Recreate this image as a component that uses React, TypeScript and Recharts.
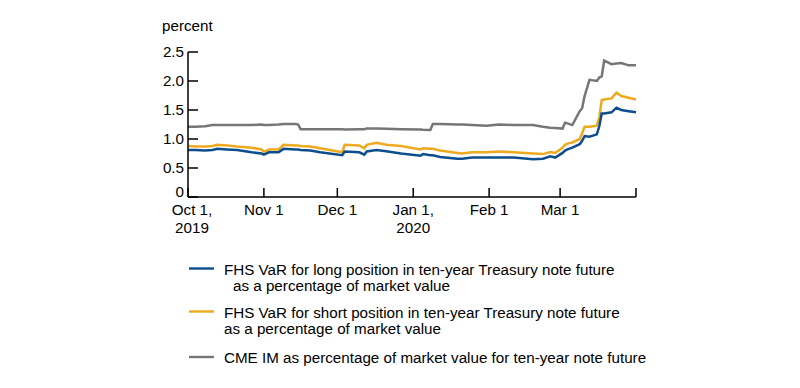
import React from 'react';
import { LineChart, Line, XAxis, YAxis } from 'recharts';

const BLUE = '#0C4E8D';
const ORANGE = '#EEA91F';
const GRAY = '#767676';
const FONT = '"Liberation Sans", Arial, Helvetica, sans-serif';
const FS = 15.2;

// days since Oct 1, 2019
const days = [
  0, 3, 7, 10, 12, 16, 20, 26, 30, 31, 33, 37, 39, 44, 45, 46, 50, 54, 63, 64,
  70, 72, 73, 77, 81, 87, 95, 96, 99, 100, 103, 110, 112, 116, 122, 127, 133, 141,
  145, 148, 150, 153, 154, 155, 157, 160, 161, 162, 164, 167, 168, 169, 170, 173,
  175, 177, 180, 183,
];
const longVaR = [
  0.81, 0.81, 0.8, 0.81, 0.83, 0.82, 0.81, 0.77, 0.75, 0.73, 0.77, 0.77, 0.83, 0.82, 0.82, 0.81, 0.8, 0.77, 0.72, 0.785,
  0.77, 0.73, 0.785, 0.81, 0.79, 0.75, 0.71, 0.74, 0.72, 0.72, 0.69, 0.66, 0.66, 0.68, 0.68, 0.68, 0.68, 0.65,
  0.66, 0.7, 0.68, 0.76, 0.8, 0.82, 0.85, 0.91, 0.97, 1.05, 1.04, 1.08, 1.22, 1.44, 1.44, 1.46,
  1.54, 1.5, 1.48, 1.46,
];
const shortVaR = [
  0.88, 0.87, 0.87, 0.88, 0.9, 0.89, 0.87, 0.85, 0.82, 0.78, 0.82, 0.82, 0.9, 0.89, 0.89, 0.88, 0.87, 0.84, 0.77, 0.9,
  0.89, 0.84, 0.9, 0.935, 0.9, 0.88, 0.82, 0.84, 0.83, 0.83, 0.8, 0.76, 0.75, 0.77, 0.77, 0.785, 0.77, 0.75,
  0.74, 0.775, 0.76, 0.85, 0.9, 0.92, 0.94, 1.0, 1.1, 1.21, 1.21, 1.23, 1.37, 1.67, 1.68, 1.7,
  1.8, 1.74, 1.71, 1.68,
];
const cmeIM = [
  1.21, 1.21, 1.22, 1.24, 1.24, 1.24, 1.24, 1.24, 1.25, 1.24, 1.24, 1.25, 1.26, 1.26, 1.25, 1.17, 1.17, 1.17, 1.17, 1.165,
  1.17, 1.17, 1.18, 1.18, 1.175, 1.17, 1.165, 1.16, 1.155, 1.26, 1.26, 1.25, 1.25, 1.24, 1.23, 1.25, 1.24, 1.24,
  1.21, 1.195, 1.19, 1.18, 1.28, 1.27, 1.24, 1.48, 1.53, 1.74, 2.02, 2.0, 2.06, 2.08, 2.35, 2.29,
  2.3, 2.31, 2.27, 2.27,
];

const xTicks = [0, 31, 61, 92, 123, 152, 183];
const xLabels = [['Oct 1,', '2019'], ['Nov 1'], ['Dec 1'], ['Jan 1,', '2020'], ['Feb 1'], ['Mar 1'], []];
const yTicks = [0, 0.5, 1, 1.5, 2, 2.5];

const legendItems = [
  { color: BLUE, lines: ['FHS VaR for long position in ten-year Treasury note future', 'as a percentage of market value'] },
  { color: ORANGE, lines: ['FHS VaR for short position in ten-year Treasury note future', 'as a percentage of market value'] },
  { color: GRAY, lines: ['CME IM as percentage of market value for ten-year note future'] },
];

const data = days.map((d, i) => ({ day: d, long: longVaR[i], short: shortVaR[i], cme: cmeIM[i] }));

const YTick = (props: any) => {
  const { x, y, payload } = props;
  const v = payload.value;
  return (
    <g>
      <line x1={x + 4} x2={x + 14} y1={y} y2={y} stroke="#000" strokeWidth={1.5} />
      <text x={x} y={y} dy={v === 0 ? 0 : 5} textAnchor="end" fontFamily={FONT} fontSize={FS} fill="#000">
        {v === 0 ? '0' : v.toFixed(1)}
      </text>
    </g>
  );
};

const XTick = (props: any) => {
  const { x, y, payload } = props;
  const idx = xTicks.indexOf(payload.value);
  const lbl = xLabels[idx] || [];
  const dx = idx === 0 ? 4 : 0;
  return (
    <g>
      <line x1={x} x2={x} y1={y} y2={y - 9} stroke="#000" strokeWidth={1.5} />
      {lbl.map((t, i) => (
        <text key={i} x={x + dx} y={y} dy={18 + i * 18.3} textAnchor="middle" fontFamily={FONT} fontSize={FS} fill="#000">
          {t}
        </text>
      ))}
    </g>
  );
};

export default function App() {
  return (
    <div style={{ position: 'absolute', left: 0, top: 0, width: 800, height: 388, background: '#fff' }}>
      <div style={{ position: 'absolute', left: 162, top: 17, fontFamily: FONT, fontSize: FS, lineHeight: '18px' }}>percent</div>
      <LineChart width={800} height={260} data={data} margin={{ top: 52, right: 164, bottom: 13, left: 148 }}>
        <XAxis
          dataKey="day"
          type="number"
          domain={[0, 183]}
          ticks={xTicks}
          interval={0}
          tickSize={0}
          tickMargin={0}
          height={50}
          axisLine={{ stroke: '#000', strokeWidth: 1.5 }}
          tickLine={false}
          tick={<XTick />}
        />
        <YAxis
          domain={[0, 2.5]}
          ticks={yTicks}
          interval={0}
          width={40}
          tickSize={0}
          tickMargin={4}
          axisLine={{ stroke: '#000', strokeWidth: 1.5 }}
          tickLine={false}
          tick={<YTick />}
        />
        <Line type="linear" dataKey="cme" stroke={GRAY} strokeWidth={2.5} dot={false} isAnimationActive={false} />
        <Line type="linear" dataKey="short" stroke={ORANGE} strokeWidth={2.5} dot={false} isAnimationActive={false} />
        <Line type="linear" dataKey="long" stroke={BLUE} strokeWidth={2.5} dot={false} isAnimationActive={false} />
      </LineChart>
      <svg width={800} height={128} style={{ position: 'absolute', left: 0, top: 260 }}>
        {legendItems.map((it, i) => {
          const base = [8.5, 51.5, 97][i];
          return (
            <g key={i}>
              <line x1={189} x2={214} y1={base} y2={base} stroke={it.color} strokeWidth={2.4} />
              {it.lines.map((t, j) => (
                <text key={j} x={j === 1 && i === 0 ? 233 : 224} y={base + 6 + j * 16.5} fontFamily={FONT} fontSize={FS} fill="#000">
                  {t}
                </text>
              ))}
            </g>
          );
        })}
      </svg>
    </div>
  );
}
